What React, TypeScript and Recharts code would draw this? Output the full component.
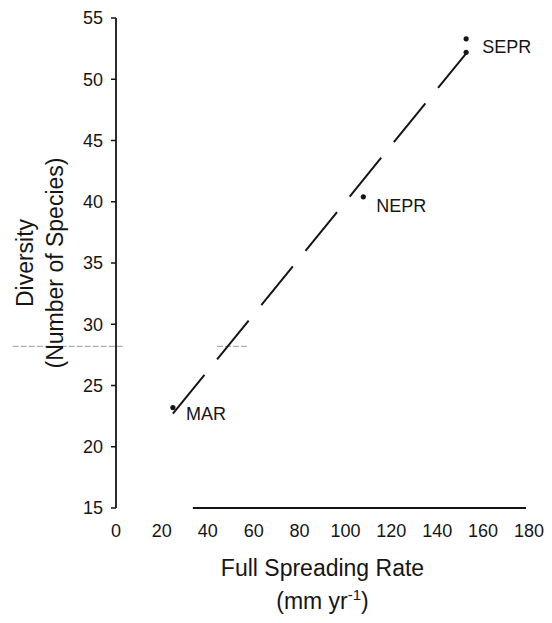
import React from "react";
import { Label, ReferenceLine, Scatter, ScatterChart, XAxis, YAxis } from "recharts";

// ridge sites, one row per dot (SEPR has two samples)
const sites = ["MAR", "NEPR", "SEPR", "SEPR"];
const spreadingRate = [24.8, 107.8, 152.6, 152.6];
const diversity = [23.2, 40.4, 53.3, 52.2];
const showLabel = [true, true, true, false];

// dashed regression line endpoints
const fitRate = [24.8, 153];
const fitDiversity = [22.7, 52.2];

// the printed x axis line only runs over part of the range
const xAxisLineRate = [33.5, 178.7];

// faint scanner streak across the y axis
const streakRate = [[-45, 3], [44, 57]];
const streakDiversity = 28.2;

const xTicks = [0, 20, 40, 60, 80, 100, 120, 140, 160, 180];
const yTicks = [15, 20, 25, 30, 35, 40, 45, 50, 55];

const points = sites.map((name, i) => ({
  name,
  rate: spreadingRate[i],
  diversity: diversity[i],
  label: showLabel[i],
}));

const FONT = "'Liberation Sans', Arial, Helvetica, sans-serif";
const INK = "#151515";

const labelOffset: Record<string, { dx: number; dy: number }> = {
  MAR: { dx: 13, dy: 6 },
  NEPR: { dx: 13, dy: 9 },
  SEPR: { dx: 16, dy: 8 },
};

const Dot = (props: any) => {
  const { cx, cy, payload } = props;
  const off = labelOffset[payload.name];
  return (
    <g>
      <circle cx={cx} cy={cy} r={2.6} fill={INK} />
      {payload.label && (
        <text
          x={cx + off.dx}
          y={cy + off.dy}
          dominantBaseline="central"
          fontSize={18}
          fontFamily={FONT}
          fill={INK}
        >
          {payload.name}
        </text>
      )}
    </g>
  );
};

const YTitle = (props: any) => {
  const { viewBox } = props;
  const cy = viewBox.y + viewBox.height / 2;
  return (
    <g fontFamily={FONT} fontSize={23} fill={INK} textAnchor="middle">
      <text x={33} y={cy} transform={`rotate(-90, 33, ${cy})`}>
        Diversity
      </text>
      <text x={63} y={cy} transform={`rotate(-90, 63, ${cy})`}>
        (Number of Species)
      </text>
    </g>
  );
};

const XTitle = (props: any) => {
  const { viewBox } = props;
  const cx = viewBox.x + viewBox.width / 2;
  return (
    <g fontFamily={FONT} fontSize={23} fill={INK} textAnchor="middle">
      <text x={cx} y={viewBox.y + 68}>Full Spreading Rate</text>
      <text x={cx} y={viewBox.y + 101}>
        (mm yr
        <tspan fontSize={15} dy={-9}>-1</tspan>
        <tspan dy={9}>)</tspan>
      </text>
    </g>
  );
};

export default function App() {
  return (
    <div style={{ position: "absolute", left: 0, top: 0, width: 552, height: 623, background: "#fff" }}>
      <ScatterChart width={552} height={623} margin={{ top: 18, right: 23, bottom: 85, left: 0 }}>
        <XAxis
          type="number"
          dataKey="rate"
          domain={[0, 180]}
          ticks={xTicks}
          axisLine={false}
          tickLine={false}
          tickSize={6}
          tickMargin={10}
          height={30}
          tick={{ fontSize: 18, fill: INK, fontFamily: FONT }}
        >
          <Label content={XTitle} />
        </XAxis>
        <YAxis
          type="number"
          dataKey="diversity"
          domain={[15, 55]}
          ticks={yTicks}
          width={116}
          tickSize={5}
          tickMargin={8}
          axisLine={{ stroke: INK, strokeWidth: 1.8 }}
          tickLine={{ stroke: INK, strokeWidth: 1.5 }}
          tick={{ fontSize: 18, fill: INK, fontFamily: FONT }}
        >
          <Label content={YTitle} />
        </YAxis>
        <ReferenceLine
          segment={[
            { x: xAxisLineRate[0], y: 15 },
            { x: xAxisLineRate[1], y: 15 },
          ]}
          stroke={INK}
          strokeWidth={1.8}
          ifOverflow="visible"
        />
        {streakRate.map((s, i) => (
          <ReferenceLine
            key={i}
            segment={[
              { x: s[0], y: streakDiversity },
              { x: s[1], y: streakDiversity },
            ]}
            stroke="#9a9a9a"
            strokeWidth={1}
            strokeDasharray="6 2"
            ifOverflow="visible"
          />
        ))}
        <ReferenceLine
          segment={[
            { x: fitRate[0], y: fitDiversity[0] },
            { x: fitRate[1], y: fitDiversity[1] },
          ]}
          stroke={INK}
          strokeWidth={2}
          strokeDasharray="50 20"
          ifOverflow="visible"
        />
        <Scatter data={points} shape={Dot} isAnimationActive={false} />
      </ScatterChart>
    </div>
  );
}
